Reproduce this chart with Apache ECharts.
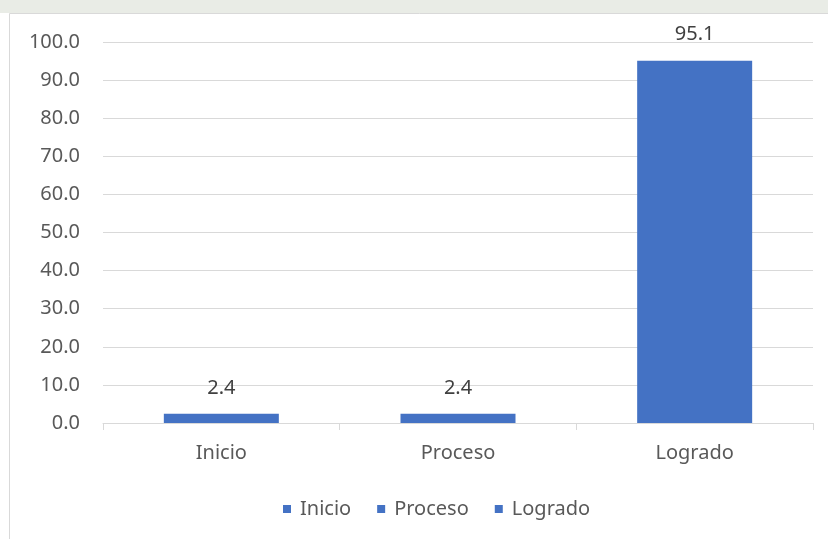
<!DOCTYPE html>
<html>
<head>
<meta charset="utf-8">
<script src="https://cdn.jsdelivr.net/npm/echarts@6/dist/echarts.min.js"></script>
<style>
html,body{margin:0;padding:0;background:#ffffff;}
#chart{width:828px;height:539px;}
</style>
</head>
<body>
<div id="chart"></div>
<script>
const categories = ['Inicio', 'Proceso', 'Logrado'];
const values = [2.4, 2.4, 95.1];
const yTicks = { min: 0, max: 100, interval: 10 };

const FONT = 'Noto Sans';
const FS = 20;
const TXT = '#595959';
const BLUE = '#4472C4';

const series = categories.map((name, i) => ({
  name: name,
  type: 'bar',
  stack: 'all',
  barWidth: 115,
  itemStyle: { color: BLUE },
  label: {
    show: true, position: 'top', distance: 16,
    color: '#404040', fontFamily: FONT, fontSize: FS,
    formatter: p => Number(p.value).toFixed(1)
  },
  data: categories.map((_, j) => j === i ? values[i] : '-')
}));

const chart = echarts.init(document.getElementById('chart'));
chart.setOption({
  animation: false,
  textStyle: { fontFamily: FONT },
  graphic: [
    { type: 'rect', z: -10, silent: true, shape: { x: 0, y: 0, width: 828, height: 13 }, style: { fill: '#e9ece6' } },
    { type: 'rect', z: -9, silent: true, shape: { x: 9.5, y: 13.5, width: 830, height: 540 }, style: { fill: '#ffffff', stroke: '#d9d9d9', lineWidth: 1 } }
  ],
  grid: { left: 103, right: 15, top: 42, bottom: 116, containLabel: false },
  legend: {
    top: 494, left: 278,
    itemWidth: 8, itemHeight: 8, itemGap: 26, icon: 'rect',
    textStyle: { color: TXT, fontFamily: FONT, fontSize: FS, padding: [0, 0, 0, 4] },
    data: categories
  },
  xAxis: {
    type: 'category', data: categories, boundaryGap: true,
    axisLine: { lineStyle: { color: '#d9d9d9', width: 1 } },
    axisTick: { show: true, length: 7, alignWithLabel: false, lineStyle: { color: '#d9d9d9' } },
    axisLabel: { color: TXT, fontFamily: FONT, fontSize: FS, margin: 20 }
  },
  yAxis: {
    type: 'value', min: yTicks.min, max: yTicks.max, interval: yTicks.interval,
    axisLine: { show: false }, axisTick: { show: false },
    splitLine: { lineStyle: { color: '#d9d9d9', width: 1 } },
    axisLabel: { color: TXT, fontFamily: FONT, fontSize: FS, margin: 23, formatter: v => v.toFixed(1) }
  },
  series: series
});
</script>
</body>
</html>
